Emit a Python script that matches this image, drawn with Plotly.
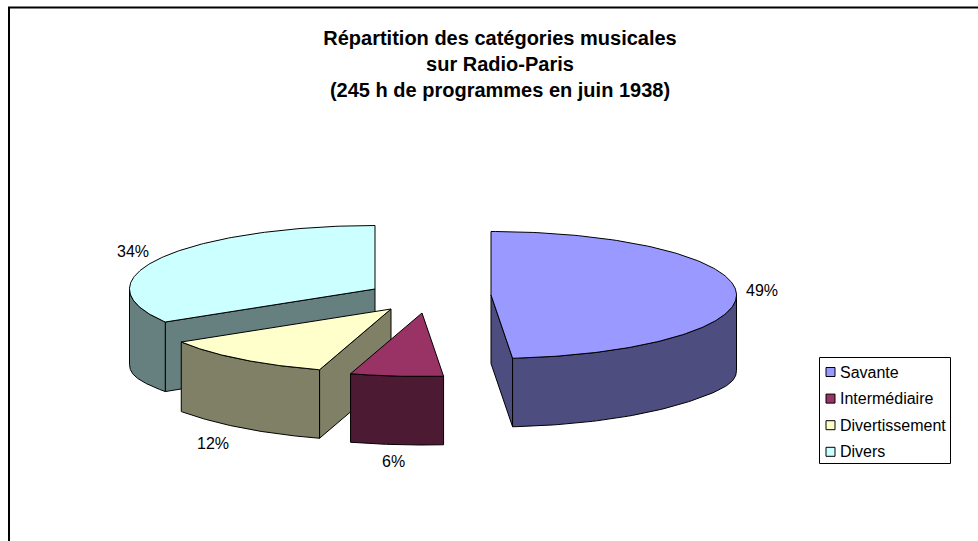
import numpy as np
import plotly.graph_objects as go

categories = ["Savante", "Intermédiaire", "Divertissement", "Divers"]
values = [48.6, 6.1, 11.6, 33.7]
top_colors = ["#9999FF", "#993366", "#FFFFCC", "#CCFFFF"]
wall_colors = ["#4D4D80", "#4D1A33", "#808066", "#668080"]
title_lines = ["Répartition des catégories musicales", "sur Radio-Paris",
               "(245 h de programmes en juin 1938)"]

# Pie geometry (axis units are page pixels)
W, H = 978, 541
RX, RY, DEPTH, DEPTH_EXTRA = 245.5, 63.5, 68.5, 7.0
APEX = [(491, 295), (422, 313), (391, 309), (375, 289)]
LABEL_POS = [(762, 290), (393, 461), (213, 443), (133, 251)]
DRAW_ORDER = [3, 2, 1, 0]
FONT = "Liberation Sans, Arial, sans-serif"
LEGEND_BOX = (819.5, 357.5, 950.5, 463.5)
LEGEND_X, LEGEND_TEXT_X, LEGEND_Y0, LEGEND_DY = 830.5, 838, 372, 26.6


def rim(cx, cy, t):
    t = np.radians(t)
    return cx + RX * np.sin(t), cy - RY * np.cos(t)


def depth(t):
    return DEPTH + DEPTH_EXTRA * np.sin(np.radians(t)) ** 12


fig = go.Figure()
edges = np.concatenate([[0], np.cumsum(values) / sum(values) * 360])


def poly(xs, ys, color):
    fig.add_trace(go.Scatter(x=list(xs), y=list(ys), mode="lines", fill="toself",
                             fillcolor=color, line=dict(color="black", width=1),
                             showlegend=False, hoverinfo="skip"))


for i in DRAW_ORDER:
    a, b = edges[i], edges[i + 1]
    cx, cy = APEX[i]
    # visible cut faces
    for t, visible in ((a, np.sin(np.radians(a)) < -1e-6), (b, np.sin(np.radians(b)) > 1e-6)):
        if visible:
            x, y = rim(cx, cy, t)
            poly([cx, x, x, cx, cx], [cy, y, y + depth(t), cy + DEPTH, cy], wall_colors[i])
    # outer wall
    lo, hi = max(a, 90), min(b, 270)
    if lo < hi:
        t = np.linspace(lo, hi, 80)
        x, y = rim(cx, cy, t)
        poly(np.r_[x, x[::-1], x[0]], np.r_[y, (y + depth(t))[::-1], y[0]], wall_colors[i])
    # top
    t = np.linspace(a, b, 160)
    x, y = rim(cx, cy, t)
    poly(np.r_[cx, x, cx], np.r_[cy, y, cy], top_colors[i])

annotations = []
for v, (x, y) in zip(values, LABEL_POS):
    annotations.append(dict(x=x, y=y, text=f"{round(v)}%", showarrow=False,
                            font=dict(family=FONT, size=16, color="black")))

leg_y = [LEGEND_Y0 + k * LEGEND_DY for k in range(len(categories))]
for name, y in zip(categories, leg_y):
    annotations.append(dict(x=LEGEND_TEXT_X, y=y, text=name, showarrow=False, xanchor="left",
                            font=dict(family=FONT, size=16, color="black")))

shapes = [
    dict(type="line", x0=9, y0=7.5, x1=9, y1=H, line=dict(color="black", width=2), layer="below"),
    dict(type="line", x0=8, y0=7.5, x1=W, y1=7.5, line=dict(color="black", width=2), layer="below"),
    dict(type="rect", x0=LEGEND_BOX[0], y0=LEGEND_BOX[1], x1=LEGEND_BOX[2], y1=LEGEND_BOX[3],
         line=dict(color="black", width=1), fillcolor="white", layer="below"),
]
fig.add_trace(go.Scatter(
    x=[LEGEND_X] * len(categories), y=leg_y, mode="markers",
    marker=dict(symbol="square", size=9, color=top_colors, line=dict(color="black", width=1)),
    showlegend=False, hoverinfo="skip"))

title = "<br>".join(f"<b>{s}</b>" for s in title_lines)
fig.update_layout(
    width=W, height=H, margin=dict(l=0, r=0, t=0, b=0),
    paper_bgcolor="white", plot_bgcolor="white", showlegend=False,
    title=dict(text=title, x=500 / W, xanchor="center", y=1 - 45 / H, yanchor="top",
               font=dict(family=FONT, size=20, color="black")),
    xaxis=dict(range=[0, W], visible=False, fixedrange=True),
    yaxis=dict(range=[H, 0], visible=False, fixedrange=True),
    annotations=annotations, shapes=shapes,
)
fig.write_html("out.html", config=dict(displayModeBar=False),
               post_script="document.body.style.margin='0';")
